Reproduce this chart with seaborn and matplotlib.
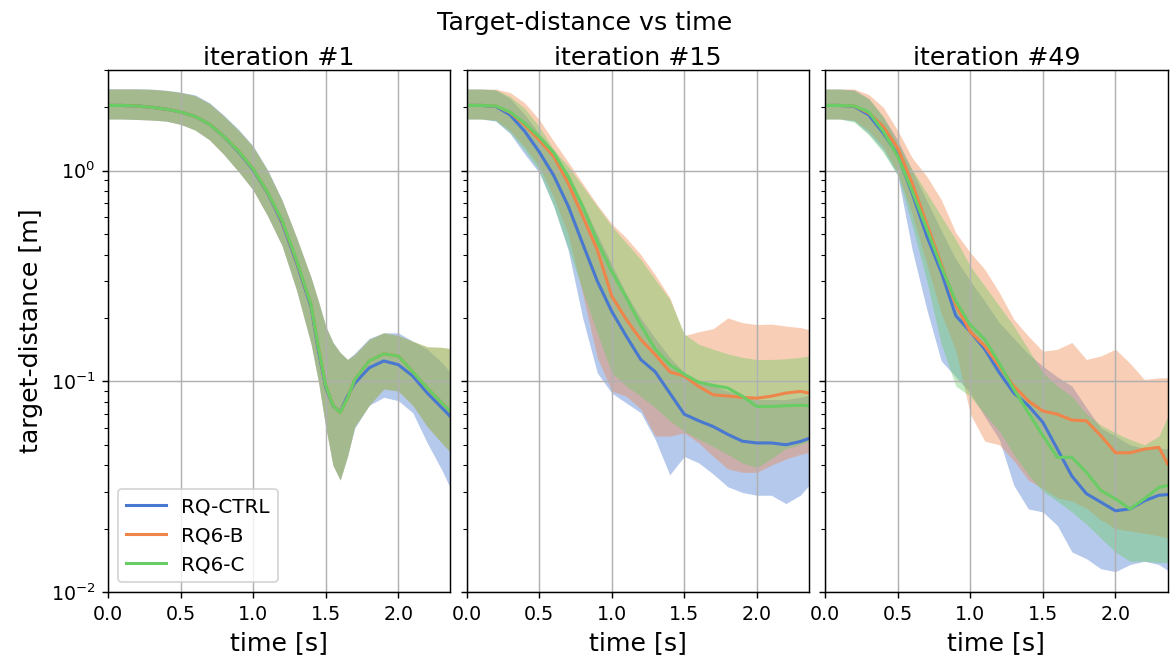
import numpy as np
import pandas as pd
import matplotlib
matplotlib.use('Agg')
import matplotlib.pyplot as plt
import seaborn as sns

RUNS = ['RQ-CTRL', 'RQ6-B', 'RQ6-C']
TITLES = ['iteration #1', 'iteration #15', 'iteration #49']

# time grid of the first panel has a few extra samples around the dip
T1 = [0.0, 0.1, 0.2, 0.3, 0.4, 0.5, 0.6, 0.7, 0.8, 0.9, 1.0, 1.1, 1.2, 1.3,
      1.4, 1.45, 1.5, 1.55, 1.6, 1.65, 1.7, 1.8, 1.9, 2.0, 2.1, 2.2, 2.3, 2.36]
T = [0.0, 0.1, 0.2, 0.3, 0.4, 0.5, 0.6, 0.7, 0.8, 0.9, 1.0, 1.1, 1.2, 1.3,
     1.4, 1.5, 1.6, 1.7, 1.8, 1.9, 2.0, 2.1, 2.2, 2.3, 2.36]

# ---- iteration #1 ----
it1_ctrl_mid = [2.04, 2.04, 2.03, 2.0, 1.96, 1.90, 1.81, 1.66, 1.45, 1.23, 1.01, 0.784, 0.565, 0.365,
                0.225, 0.14, 0.094, 0.0767, 0.0713, 0.085, 0.098, 0.116, 0.125, 0.120, 0.106, 0.088, 0.075, 0.068]
it1_ctrl_lo = [1.76, 1.76, 1.75, 1.74, 1.72, 1.66, 1.56, 1.40, 1.19, 0.99, 0.81, 0.61, 0.44, 0.27,
               0.15, 0.10, 0.061, 0.040, 0.034, 0.044, 0.060, 0.077, 0.084, 0.081, 0.071, 0.051, 0.038, 0.031]
it1_ctrl_hi = [2.45, 2.45, 2.45, 2.44, 2.41, 2.36, 2.29, 2.10, 1.83, 1.57, 1.31, 1.01, 0.725, 0.48,
               0.31, 0.24, 0.183, 0.153, 0.137, 0.127, 0.136, 0.160, 0.170, 0.170, 0.155, 0.142, 0.123, 0.110]

it1_b_mid = [2.04, 2.04, 2.03, 2.0, 1.96, 1.90, 1.81, 1.66, 1.45, 1.24, 1.02, 0.79, 0.575, 0.372,
             0.23, 0.145, 0.096, 0.077, 0.071, 0.083, 0.102, 0.125, 0.135, 0.132, 0.111, 0.093, 0.079, 0.072]
it1_b_lo = [1.76, 1.76, 1.75, 1.74, 1.72, 1.66, 1.56, 1.40, 1.19, 0.99, 0.81, 0.61, 0.44, 0.27,
            0.15, 0.10, 0.061, 0.040, 0.034, 0.044, 0.061, 0.077, 0.092, 0.090, 0.077, 0.061, 0.051, 0.046]
it1_b_hi = [2.44, 2.44, 2.44, 2.43, 2.40, 2.35, 2.27, 2.08, 1.81, 1.55, 1.30, 1.0, 0.72, 0.48,
            0.31, 0.24, 0.183, 0.153, 0.137, 0.127, 0.134, 0.158, 0.170, 0.165, 0.155, 0.146, 0.145, 0.143]

it1_c_mid = [2.04, 2.04, 2.03, 2.0, 1.96, 1.90, 1.81, 1.66, 1.45, 1.24, 1.02, 0.79, 0.58, 0.375,
             0.23, 0.145, 0.096, 0.077, 0.071, 0.083, 0.102, 0.125, 0.135, 0.132, 0.111, 0.093, 0.079, 0.072]
it1_c_lo = [1.76, 1.76, 1.75, 1.74, 1.72, 1.66, 1.56, 1.40, 1.19, 0.99, 0.81, 0.61, 0.44, 0.27,
            0.15, 0.10, 0.061, 0.040, 0.034, 0.044, 0.061, 0.077, 0.092, 0.090, 0.077, 0.061, 0.051, 0.046]
it1_c_hi = [2.44, 2.44, 2.44, 2.43, 2.40, 2.35, 2.27, 2.08, 1.81, 1.55, 1.30, 1.0, 0.72, 0.48,
            0.31, 0.24, 0.183, 0.153, 0.137, 0.127, 0.134, 0.158, 0.170, 0.165, 0.155, 0.146, 0.145, 0.143]

# ---- iteration #15 ----
it15_ctrl_mid = [2.04, 2.04, 2.02, 1.84, 1.54, 1.23, 0.95, 0.68, 0.45, 0.30, 0.215, 0.164, 0.127,
                 0.111, 0.088, 0.0698, 0.065, 0.061, 0.056, 0.052, 0.051, 0.051, 0.050, 0.0518, 0.0536]
it15_ctrl_lo = [1.76, 1.76, 1.72, 1.50, 1.20, 0.98, 0.68, 0.42, 0.20, 0.11, 0.088, 0.079, 0.071,
                0.053, 0.036, 0.044, 0.041, 0.0363, 0.0316, 0.0297, 0.0288, 0.0288, 0.0263, 0.0288, 0.0321]
it15_ctrl_hi = [2.44, 2.44, 2.42, 2.2, 1.85, 1.5, 1.25, 0.95, 0.70, 0.50, 0.36, 0.26, 0.20,
                0.16, 0.13, 0.11, 0.10, 0.095, 0.09, 0.085, 0.082, 0.082, 0.082, 0.084, 0.086]

it15_b_mid = [2.04, 2.04, 2.03, 1.89, 1.65, 1.40, 1.17, 0.874, 0.607, 0.422, 0.254, 0.197, 0.158,
              0.134, 0.111, 0.106, 0.0945, 0.0863, 0.0852, 0.0839, 0.0832, 0.085, 0.088, 0.0896, 0.088]
it15_b_lo = [1.76, 1.76, 1.74, 1.55, 1.30, 1.05, 0.75, 0.50, 0.26, 0.13, 0.09, 0.085, 0.074,
             0.055, 0.055, 0.057, 0.051, 0.044, 0.0384, 0.037, 0.037, 0.040, 0.0428, 0.045, 0.046]
it15_b_hi = [2.44, 2.44, 2.44, 2.35, 2.10, 1.75, 1.38, 1.10, 0.87, 0.69, 0.56, 0.48, 0.40,
             0.32, 0.25, 0.165, 0.172, 0.178, 0.20, 0.19, 0.186, 0.187, 0.183, 0.18, 0.176]

it15_c_mid = [2.04, 2.04, 2.03, 1.90, 1.68, 1.45, 1.22, 0.94, 0.677, 0.463, 0.333, 0.25, 0.185,
              0.142, 0.120, 0.108, 0.099, 0.0957, 0.093, 0.085, 0.076, 0.076, 0.0766, 0.077, 0.0766]
it15_c_lo = [1.76, 1.76, 1.73, 1.52, 1.25, 1.0, 0.68, 0.43, 0.27, 0.17, 0.11, 0.095, 0.085,
             0.075, 0.065, 0.058, 0.053, 0.049, 0.045, 0.041, 0.039, 0.043, 0.048, 0.050, 0.052]
it15_c_hi = [2.44, 2.44, 2.42, 2.25, 1.98, 1.62, 1.26, 1.05, 0.843, 0.677, 0.545, 0.455, 0.379,
             0.304, 0.245, 0.168, 0.150, 0.142, 0.135, 0.13, 0.127, 0.127, 0.128, 0.13, 0.132]

# ---- iteration #49 ----
it49_ctrl_mid = [2.04, 2.04, 2.02, 1.84, 1.51, 1.19, 0.78, 0.49, 0.33, 0.205, 0.172, 0.142, 0.110,
                 0.088, 0.0767, 0.0639, 0.0477, 0.0355, 0.0293, 0.0267, 0.0243, 0.0248, 0.0271, 0.0288, 0.029]
it49_ctrl_lo = [1.76, 1.76, 1.72, 1.50, 1.25, 0.95, 0.42, 0.22, 0.125, 0.105, 0.088, 0.068, 0.053,
                0.0321, 0.0248, 0.024, 0.0207, 0.0155, 0.0144, 0.0129, 0.0125, 0.0135, 0.014, 0.0135, 0.0127]
it49_ctrl_hi = [2.44, 2.44, 2.42, 2.2, 1.8, 1.4, 1.0, 0.72, 0.52, 0.38, 0.30, 0.24, 0.19,
                0.16, 0.135, 0.118, 0.105, 0.095, 0.075, 0.06, 0.055, 0.05, 0.048, 0.048, 0.048]

it49_b_mid = [2.04, 2.04, 2.03, 1.88, 1.62, 1.28, 0.87, 0.56, 0.36, 0.23, 0.172, 0.147, 0.118,
              0.095, 0.0808, 0.0723, 0.0698, 0.0655, 0.065, 0.0552, 0.0458, 0.0458, 0.0477, 0.0486, 0.0405]
it49_b_lo = [1.76, 1.76, 1.74, 1.55, 1.30, 0.98, 0.62, 0.36, 0.21, 0.14, 0.07, 0.052, 0.05,
             0.042, 0.034, 0.031, 0.028, 0.027, 0.025, 0.022, 0.02, 0.0195, 0.019, 0.0185, 0.018]
it49_b_hi = [2.44, 2.44, 2.44, 2.3, 2.0, 1.55, 1.15, 0.94, 0.729, 0.508, 0.408, 0.34, 0.264,
             0.197, 0.164, 0.139, 0.142, 0.153, 0.127, 0.132, 0.142, 0.122, 0.102, 0.104, 0.104]

it49_c_mid = [2.04, 2.04, 2.03, 1.90, 1.54, 1.17, 0.80, 0.53, 0.35, 0.24, 0.185, 0.158, 0.122,
              0.0917, 0.071, 0.0552, 0.0436, 0.0436, 0.037, 0.0303, 0.0277, 0.0248, 0.0277, 0.0314, 0.032]
it49_c_lo = [1.76, 1.76, 1.70, 1.48, 1.22, 0.95, 0.55, 0.30, 0.15, 0.095, 0.085, 0.07, 0.058,
             0.045, 0.036, 0.03, 0.027, 0.024, 0.021, 0.018, 0.0155, 0.014, 0.014, 0.0138, 0.0138]
it49_c_hi = [2.44, 2.44, 2.40, 2.2, 1.81, 1.35, 1.01, 0.784, 0.607, 0.471, 0.352, 0.283, 0.228,
             0.183, 0.142, 0.11, 0.095, 0.085, 0.07, 0.062, 0.057, 0.053, 0.05, 0.055, 0.068]

panels = [
    (T1, {'RQ-CTRL': (it1_ctrl_lo, it1_ctrl_mid, it1_ctrl_hi),
          'RQ6-B': (it1_b_lo, it1_b_mid, it1_b_hi),
          'RQ6-C': (it1_c_lo, it1_c_mid, it1_c_hi)}),
    (T, {'RQ-CTRL': (it15_ctrl_lo, it15_ctrl_mid, it15_ctrl_hi),
         'RQ6-B': (it15_b_lo, it15_b_mid, it15_b_hi),
         'RQ6-C': (it15_c_lo, it15_c_mid, it15_c_hi)}),
    (T, {'RQ-CTRL': (it49_ctrl_lo, it49_ctrl_mid, it49_ctrl_hi),
         'RQ6-B': (it49_b_lo, it49_b_mid, it49_b_hi),
         'RQ6-C': (it49_c_lo, it49_c_mid, it49_c_hi)}),
]


def long_frame(t, series):
    # three rows per time step: lower, middle, upper -> median + full range
    rows = []
    for name, (lo, mid, hi) in series.items():
        for ti, a, b, c in zip(t, lo, mid, hi):
            for v in (a, b, c):
                rows.append((name, ti, v))
    return pd.DataFrame(rows, columns=['run', 'time', 'dist'])


plt.rcParams['font.family'] = 'DejaVu Sans'
plt.rcParams['xtick.labelsize'] = 10.5
plt.rcParams['ytick.labelsize'] = 10.5

fig, axes = plt.subplots(1, 3, sharey=True, figsize=(9, 662 / 130), dpi=130)
fig.subplots_adjust(left=0.0923, right=0.998, top=0.894, bottom=0.1057, wspace=0.047)

for i, (ax, (t, series)) in enumerate(zip(axes, panels)):
    ax.set_yscale('log')
    df = long_frame(t, series)
    sns.lineplot(data=df, x='time', y='dist', hue='run', hue_order=RUNS,
                 palette='muted', estimator='median', errorbar=('pi', 100),
                 err_kws={'alpha': 0.4, 'linewidth': 0}, linewidth=1.7,
                 ax=ax, legend=(i == 0))
    ax.set_title(TITLES[i], fontsize=14, pad=2.5)
    ax.set_xlabel('time [s]', fontsize=14)
    ax.set_ylabel('')
    ax.set_xlim(0, 2.36)
    ax.set_xticks([0.0, 0.5, 1.0, 1.5, 2.0])
    ax.grid(True, which='major', color='#b0b0b0', linewidth=0.8)

axes[0].set_ylim(0.01, 3.0)
axes[0].set_ylabel('target-distance [m]', fontsize=14)
sns.move_legend(axes[0], 'lower left', title=None, fontsize=11, frameon=True)

fig.suptitle('Target-distance vs time', fontsize=14, y=0.984)

fig.savefig('out.png', dpi=130)
